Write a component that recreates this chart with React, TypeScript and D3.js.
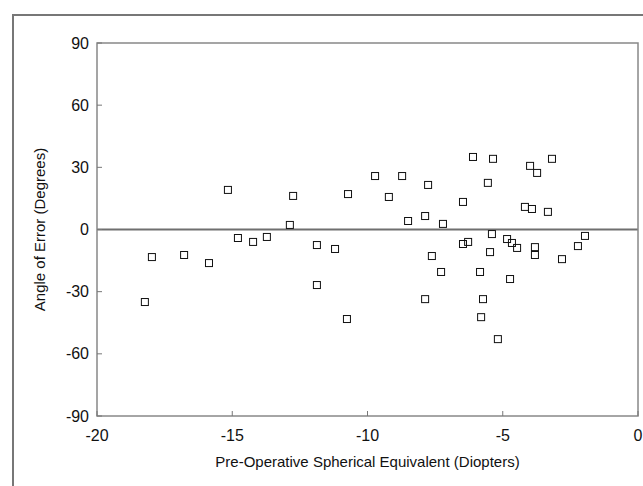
import React from "react";
import * as d3 from "d3";

const xTicks = [-20, -15, -10, -5, 0];
const yTicks = [90, 60, 30, 0, -30, -60, -90];
const xTitle = "Pre-Operative Spherical Equivalent (Diopters)";
const yTitle = "Angle of Error (Degrees)";

// Pre-operative spherical equivalent (D)
const seValues = [
  -18.23, -17.97, -16.78, -15.86, -15.16, -14.79, -14.23, -13.72, -12.75, -12.87,
  -11.87, -11.87, -11.2, -10.72, -10.76, -9.72, -9.21, -8.72, -8.5, -7.87,
  -7.76, -7.62, -7.28, -7.87, -7.21, -6.47, -6.1, -6.47, -6.28, -5.36,
  -5.55, -5.84, -5.73, -5.8, -5.18, -5.4, -5.47, -4.84, -4.66, -4.47,
  -4.73, -4.18, -3.92, -3.99, -3.73, -3.18, -3.33, -3.81, -3.81, -1.96,
  -2.22, -2.81,
];
// Angle of error (degrees)
const errValues = [
  -35.0, -13.3, -12.3, -16.2, 19.1, -4.1, -6.0, -3.6, 16.2, 2.2,
  -7.5, -26.8, -9.4, 17.1, -43.2, 25.8, 15.7, 25.8, 4.1, 6.5,
  21.5, -12.8, -20.5, -33.6, 2.7, 13.3, 35.0, -7.0, -6.0, 34.1,
  22.5, -20.5, -33.6, -42.3, -52.9, -2.2, -10.9, -4.6, -6.5, -8.9,
  -23.9, 10.9, 9.9, 30.7, 27.3, 34.1, 8.5, -8.5, -12.3, -3.1,
  -8.0, -14.3,
];

const W = 643;
const H = 486;
const left = 97;
const right = 638;
const top = 43;
const bottom = 416;

export default function App() {
  const x = d3.scaleLinear().domain([-20, 0]).range([left, right]);
  const y = d3.scaleLinear().domain([-90, 90]).range([bottom, top]);
  const pts = seValues.map((v, i) => ({ x: v, y: errValues[i] }));
  const s = 7;
  const font = "'Liberation Sans', Arial, Helvetica, sans-serif";

  return (
    <svg
      width={W}
      height={H}
      style={{ position: "absolute", left: 0, top: 0, background: "#fff" }}
      fontFamily={font}
    >
      <rect x={0} y={0} width={W} height={H} fill="#fff" />
      {/* outer frame */}
      <path d={`M13,${H + 5} L13,15 L${W + 5},15`} fill="none" stroke="#777" strokeWidth={2} />
      {/* zero line */}
      <line x1={left} x2={right} y1={y(0)} y2={y(0)} stroke="#6f6f6f" strokeWidth={2} />
      {/* plot frame */}
      <rect x={left} y={top} width={right - left} height={bottom - top} fill="none" stroke="#888" strokeWidth={1.5} />
      {/* y ticks */}
      {yTicks.map((t) => (
        <g key={"y" + t}>
          <line x1={left} x2={left + 5} y1={y(t)} y2={y(t)} stroke="#777" strokeWidth={1} />
          <text x={89} y={y(t)} dy="0.35em" textAnchor="end" fontSize={16} fill="#111">
            {t}
          </text>
        </g>
      ))}
      {/* x ticks */}
      {xTicks.map((t) => (
        <g key={"x" + t}>
          <line x1={x(t)} x2={x(t)} y1={bottom} y2={bottom - 5} stroke="#777" strokeWidth={1} />
          <text x={x(t)} y={bottom + 25} textAnchor="middle" fontSize={16} fill="#111">
            {t}
          </text>
        </g>
      ))}
      <text x={(left + right) / 2} y={467} textAnchor="middle" fontSize={15} fill="#111">
        {xTitle}
      </text>
      <text
        transform={`translate(45,${(top + bottom) / 2}) rotate(-90)`}
        textAnchor="middle"
        fontSize={15}
        fill="#111"
      >
        {yTitle}
      </text>
      {pts.map((p, i) => (
        <rect
          key={i}
          x={x(p.x) - s / 2}
          y={y(p.y) - s / 2}
          width={s}
          height={s}
          fill="none"
          stroke="#111"
          strokeWidth={1}
        />
      ))}
    </svg>
  );
}
